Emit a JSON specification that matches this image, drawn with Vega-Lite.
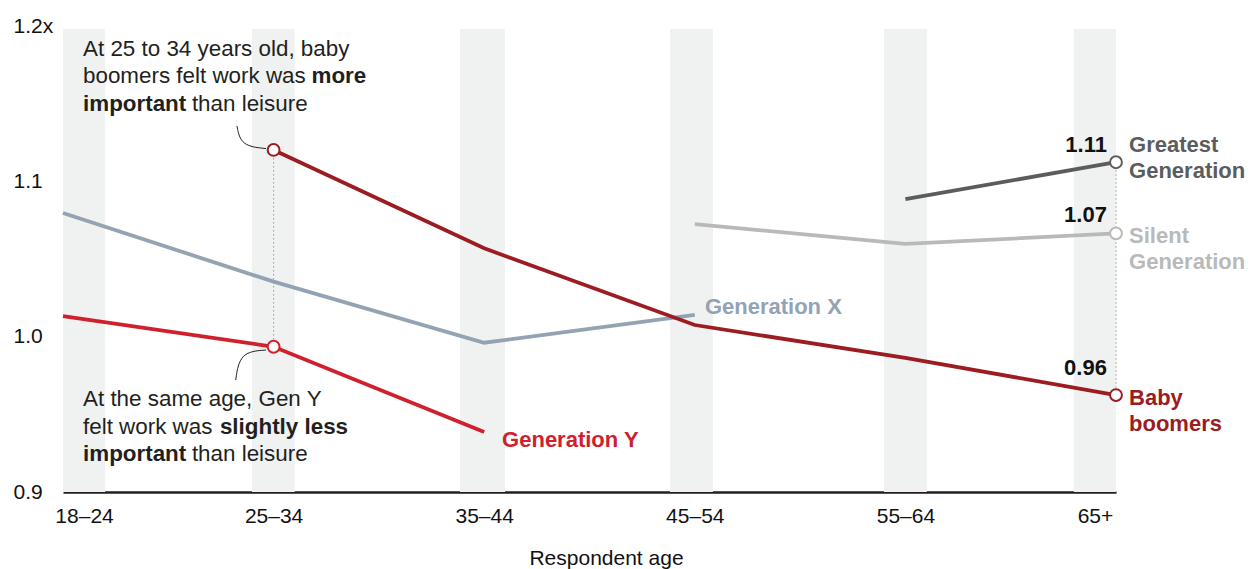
{
  "$schema": "https://vega.github.io/schema/vega-lite/v6.json",
  "width": 1053,
  "height": 466,
  "autosize": {"type": "none"},
  "padding": {"left": 63, "top": 26, "right": 138, "bottom": 77},
  "background": "white",
  "config": {
    "view": {"stroke": null},
    "font": "Liberation Sans",
    "text": {"font": "Liberation Sans"}
  },
  "datasets": {
    "bands": [
      {"age": "18–24", "x0": 0, "x1": 0.2},
      {"age": "25–34", "x0": 0.897, "x1": 1.1},
      {"age": "35–44", "x0": 1.885, "x1": 2.099},
      {"age": "45–54", "x0": 2.882, "x1": 3.086},
      {"age": "55–64", "x0": 3.898, "x1": 4.102},
      {"age": "65+", "x0": 4.8, "x1": 5}
    ],
    "series": [
      {"gen": "Generation Y", "age": "18–24", "pos": 0, "v": 1.0133},
      {"gen": "Generation Y", "age": "25–34", "pos": 1, "v": 0.9935},
      {"gen": "Generation Y", "age": "35–44", "pos": 2, "v": 0.9386},
      {"gen": "Generation X", "age": "18–24", "pos": 0, "v": 1.0796},
      {"gen": "Generation X", "age": "25–34", "pos": 1, "v": 1.0354},
      {"gen": "Generation X", "age": "35–44", "pos": 2, "v": 0.9961},
      {"gen": "Generation X", "age": "45–54", "pos": 3, "v": 1.014},
      {"gen": "Baby boomers", "age": "25–34", "pos": 1, "v": 1.1202},
      {"gen": "Baby boomers", "age": "35–44", "pos": 2, "v": 1.0569},
      {"gen": "Baby boomers", "age": "45–54", "pos": 3, "v": 1.0075},
      {"gen": "Baby boomers", "age": "55–64", "pos": 4, "v": 0.9863},
      {"gen": "Baby boomers", "age": "65+", "pos": 5, "v": 0.9624},
      {"gen": "Silent Generation", "age": "45–54", "pos": 3, "v": 1.0725},
      {"gen": "Silent Generation", "age": "55–64", "pos": 4, "v": 1.0597},
      {"gen": "Silent Generation", "age": "65+", "pos": 5, "v": 1.0665},
      {"gen": "Greatest Generation", "age": "55–64", "pos": 4, "v": 1.0886},
      {"gen": "Greatest Generation", "age": "65+", "pos": 5, "v": 1.1123}
    ],
    "guides": [
      {"x": 1, "y": 1.1202, "y2": 0.9935},
      {"x": 5, "y": 1.1123, "y2": 0.9624}
    ],
    "leaders": [
      {"id": "a", "o": 0, "x": 0.826, "y": 1.1356},
      {"id": "a", "o": 1, "x": 0.845, "y": 1.1228},
      {"id": "a", "o": 2, "x": 0.964, "y": 1.1211},
      {"id": "b", "o": 0, "x": 0.82, "y": 0.9721},
      {"id": "b", "o": 1, "x": 0.84, "y": 0.9901},
      {"id": "b", "o": 2, "x": 0.964, "y": 0.9914}
    ],
    "valueLabels": [
      {"x": 4.957, "y": 1.1189, "label": "1.11"},
      {"x": 4.957, "y": 1.0738, "label": "1.07"},
      {"x": 4.957, "y": 0.9753, "label": "0.96"}
    ],
    "seriesLabels": [
      {"gen": "Greatest Generation", "x": 5.062, "y": 1.1189, "label": "Greatest\nGeneration"},
      {"gen": "Silent Generation", "x": 5.062, "y": 1.0603, "label": "Silent\nGeneration"},
      {"gen": "Baby boomers", "x": 5.062, "y": 0.956, "label": "Baby\nboomers"},
      {"gen": "Generation X", "x": 3.048, "y": 1.0146, "label": "Generation X"},
      {"gen": "Generation Y", "x": 2.085, "y": 0.929, "label": "Generation Y"}
    ],
    "notesRegular": [
      {"x": 0.095, "y": 1.1807, "t": "At 25 to 34 years old, baby"},
      {"x": 0.095, "y": 1.163, "t": "boomers felt work was"},
      {"x": 0.612, "y": 1.1453, "t": "than leisure"},
      {"x": 0.095, "y": 0.9554, "t": "At the same age, Gen Y"},
      {"x": 0.095, "y": 0.9373, "t": "felt work was"},
      {"x": 0.612, "y": 0.92, "t": "than leisure"}
    ],
    "notesBold": [
      {"x": 1.18, "y": 1.163, "t": "more"},
      {"x": 0.095, "y": 1.1453, "t": "important"},
      {"x": 0.745, "y": 0.9373, "t": "slightly less"},
      {"x": 0.095, "y": 0.92, "t": "important"}
    ]
  },
  "layer": [
    {
      "data": {"name": "bands"},
      "mark": {"type": "rect", "color": "#F0F2F1"},
      "encoding": {
        "x": {
          "field": "x0", "type": "quantitative", "title": "Respondent age",
          "scale": {"domain": [0, 5], "nice": false, "zero": false},
          "axis": {
            "values": [0.1, 1, 2, 3, 4, 4.9],
            "labelExpr": "datum.value < 0.5 ? '18–24' : datum.value < 1.5 ? '25–34' : datum.value < 2.5 ? '35–44' : datum.value < 3.5 ? '45–54' : datum.value < 4.5 ? '55–64' : '65+'",
            "grid": false, "ticks": false, "tickSize": 0,
            "domain": true, "domainColor": "#231F20", "domainWidth": 2.7,
            "labelFont": "Liberation Sans", "labelFontSize": 21, "labelColor": "#111111",
            "labelPadding": 13, "labelFlush": false, "labelOverlap": false,
            "titleFont": "Liberation Sans", "titleFontSize": 21,
            "titleFontWeight": "normal", "titleColor": "#111111",
            "titleX": 543, "titleY": 72, "titleBaseline": "alphabetic"
          }
        },
        "x2": {"field": "x1"},
        "y": {
          "datum": 0.9, "type": "quantitative", "title": null,
          "scale": {"domain": [0.9, 1.2], "nice": false, "zero": false},
          "axis": {
            "values": [0.9, 1.0, 1.1, 1.2],
            "labelExpr": "datum.value > 1.15 ? '1.2x' : format(datum.value, '.1f')",
            "grid": false, "ticks": false, "tickSize": 0, "domain": false,
            "labelFont": "Liberation Sans", "labelFontSize": 21, "labelColor": "#111111",
            "labelAlign": "left", "labelBaseline": "middle", "labelPadding": 50
          }
        },
        "y2": {"datum": 1.198}
      }
    },
    {
      "data": {"name": "guides"},
      "mark": {"type": "rule", "color": "#9A9A9A", "strokeWidth": 1, "strokeDash": [1.5, 2.5]},
      "encoding": {
        "x": {"field": "x", "type": "quantitative", "title": "Respondent age"},
        "y": {"field": "y", "type": "quantitative", "title": null},
        "y2": {"field": "y2"}
      }
    },
    {
      "data": {"name": "series"},
      "mark": {"type": "line", "strokeWidth": 3.8, "strokeCap": "butt"},
      "encoding": {
        "x": {"field": "pos", "type": "quantitative", "title": "Respondent age"},
        "y": {"field": "v", "type": "quantitative", "title": null},
        "order": {"field": "pos"},
        "color": {
          "field": "gen", "type": "nominal", "legend": null,
          "scale": {
            "domain": ["Silent Generation", "Greatest Generation", "Generation X", "Baby boomers", "Generation Y"],
            "range": ["#B9B9B9", "#5C5C5C", "#93A3B4", "#9B1C21", "#D0202D"]
          }
        }
      }
    },
    {
      "data": {"name": "leaders"},
      "mark": {"type": "line", "color": "#231F20", "strokeWidth": 1, "interpolate": "basis"},
      "encoding": {
        "x": {"field": "x", "type": "quantitative", "title": "Respondent age"},
        "y": {"field": "y", "type": "quantitative", "title": null},
        "detail": {"field": "id"},
        "order": {"field": "o"}
      }
    },
    {
      "data": {"name": "series"},
      "transform": [
        {"filter": "(datum.pos == 1 && (datum.gen == 'Baby boomers' || datum.gen == 'Generation Y')) || datum.pos == 5"}
      ],
      "mark": {"type": "point", "shape": "circle", "filled": true, "fill": "white", "size": 140, "strokeWidth": 2, "opacity": 1},
      "encoding": {
        "x": {"field": "pos", "type": "quantitative", "title": "Respondent age"},
        "y": {"field": "v", "type": "quantitative", "title": null},
        "stroke": {
          "field": "gen", "type": "nominal", "legend": null,
          "scale": {
            "domain": ["Silent Generation", "Greatest Generation", "Generation X", "Baby boomers", "Generation Y"],
            "range": ["#B9B9B9", "#5C5C5C", "#93A3B4", "#9B1C21", "#D0202D"]
          }
        }
      }
    },
    {
      "data": {"name": "valueLabels"},
      "mark": {"type": "text", "align": "right", "baseline": "alphabetic", "fontSize": 22, "fontWeight": "bold", "color": "#111111", "font": "Liberation Sans"},
      "encoding": {
        "x": {"field": "x", "type": "quantitative", "title": "Respondent age"},
        "y": {"field": "y", "type": "quantitative", "title": null},
        "text": {"field": "label"}
      }
    },
    {
      "data": {"name": "seriesLabels"},
      "mark": {"type": "text", "align": "left", "baseline": "alphabetic", "fontSize": 22, "fontWeight": "bold", "lineBreak": "\n", "lineHeight": 26, "font": "Liberation Sans"},
      "encoding": {
        "x": {"field": "x", "type": "quantitative", "title": "Respondent age"},
        "y": {"field": "y", "type": "quantitative", "title": null},
        "text": {"field": "label"},
        "color": {
          "field": "gen", "type": "nominal", "legend": null,
          "scale": {
            "domain": ["Silent Generation", "Greatest Generation", "Generation X", "Baby boomers", "Generation Y"],
            "range": ["#B9B9B9", "#5C5C5C", "#93A3B4", "#9B1C21", "#D0202D"]
          }
        }
      }
    },
    {
      "data": {"name": "notesRegular"},
      "mark": {"type": "text", "align": "left", "baseline": "alphabetic", "fontSize": 22.4, "color": "#231F20", "font": "Liberation Sans"},
      "encoding": {
        "x": {"field": "x", "type": "quantitative", "title": "Respondent age"},
        "y": {"field": "y", "type": "quantitative", "title": null},
        "text": {"field": "t"}
      }
    },
    {
      "data": {"name": "notesBold"},
      "mark": {"type": "text", "align": "left", "baseline": "alphabetic", "fontSize": 22.4, "fontWeight": "bold", "color": "#231F20", "font": "Liberation Sans"},
      "encoding": {
        "x": {"field": "x", "type": "quantitative", "title": "Respondent age"},
        "y": {"field": "y", "type": "quantitative", "title": null},
        "text": {"field": "t"}
      }
    }
  ]
}
